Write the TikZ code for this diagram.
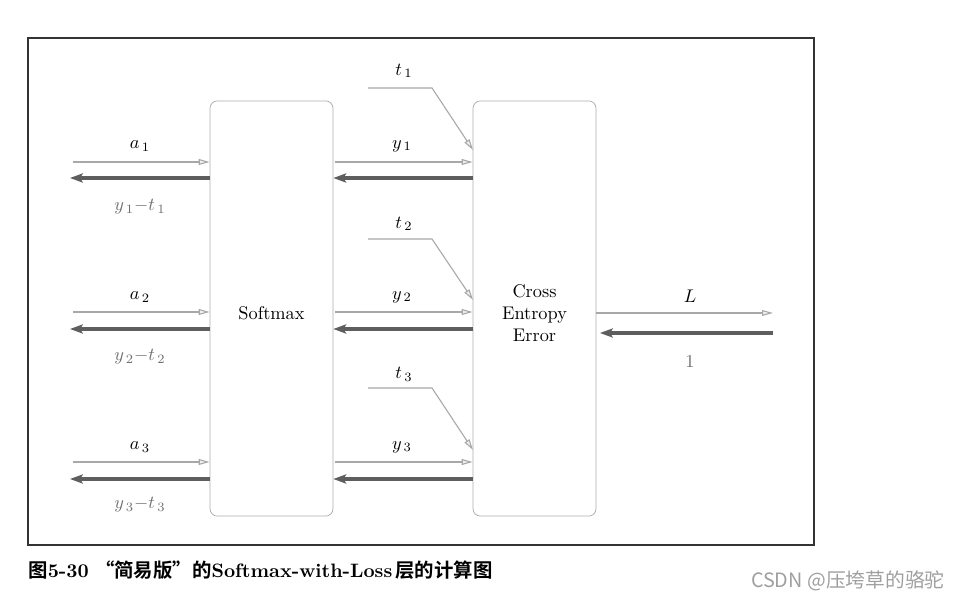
\documentclass[tikz,border=0pt]{standalone}
\usepackage{fontspec}
\usepackage{amsmath}
\usepackage{xcolor}
\usepackage{tikz}
\usetikzlibrary{arrows.meta, positioning}
\newfontfamily\cjk{Noto Sans CJK SC}[BoldFont={Noto Sans CJK SC Bold}]
\newcommand{\zh}[1]{{\cjk\bfseries #1}}
\definecolor{fwdgray}{HTML}{A8A8A8}
\definecolor{bwdgray}{HTML}{5E5E5E}
\definecolor{labgray}{HTML}{6E6E6E}
\tikzset{
    layer/.style={draw=gray!65, rounded corners=4pt, minimum width=2.36cm, minimum height=7.97cm},
    layertxt/.style={align=center, yshift=-2.6pt},
    fwd/.style={draw=fwdgray, line width=0.6pt, -{Triangle[length=6pt, width=3.2pt, fill=gray!12]}},
    bwd/.style={draw=bwdgray, line width=1.7pt, -{Stealth[length=7pt, width=5pt, inset=1.5pt]}},
    blab/.style={text=labgray},
}

\begin{document}
\begin{tikzpicture}[x=0.0192cm, y=-0.0192cm]
    \useasboundingbox (0,0) rectangle (960,601);
    \draw[line width=0.6pt, black!80] (28,38) rectangle (814,545);

    \node[layer, label={[name=smtxt, layertxt]center:Softmax}] (sm) at (271.5,308.5) {};
    \node[layer, label={[name=cetxt, layertxt]center:Cross\\Entropy\\Error}] (ce) at (534.5,308.5) {};

    % left side
    \coordinate (a1) at (73,162);
    \coordinate (a2) at (73,312);
    \coordinate (a3) at (73,462);
    \coordinate (g1) at (70,178);
    \coordinate (g2) at (70,329);
    \coordinate (g3) at (70,479);
    \draw[fwd] (a1) -- (a1 -| sm.west);
    \draw[fwd] (a2) -- (a2 -| sm.west);
    \draw[fwd] (a3) -- (a3 -| sm.west);
    \draw[bwd] (g1 -| sm.west) -- (g1);
    \draw[bwd] (g2 -| sm.west) -- (g2);
    \draw[bwd] (g3 -| sm.west) -- (g3);
    \node (la1) at (140,146) {$a_{\,1}$};
    \node (la2) at (140,297) {$a_{\,2}$};
    \node (la3) at (140,447) {$a_{\,3}$};
    \node[blab] (lg1) at (140,207) {$y_{\,1}{-}t_{\,1}$};
    \node[blab] (lg2) at (140,357) {$y_{\,2}{-}t_{\,2}$};
    \node[blab] (lg3) at (140,505) {$y_{\,3}{-}t_{\,3}$};

    % between the layers
    \draw[fwd] ([xshift=1pt]sm.east |- a1) -- (ce.west |- a1);
    \draw[fwd] ([xshift=1pt]sm.east |- a2) -- (ce.west |- a2);
    \draw[fwd] ([xshift=1pt]sm.east |- a3) -- (ce.west |- a3);
    \draw[bwd] (ce.west |- g1) -- (sm.east |- g1);
    \draw[bwd] (ce.west |- g2) -- (sm.east |- g2);
    \draw[bwd] (ce.west |- g3) -- (sm.east |- g3);
    \node (ly1) at (402,146) {$y_{\,1}$};
    \node (ly2) at (402,297) {$y_{\,2}$};
    \node (ly3) at (402,447) {$y_{\,3}$};

    % labels t
    \coordinate (t1) at (368,88);
    \coordinate (t2) at (368,239);
    \coordinate (t3) at (368,388);
    \coordinate (k1) at (432,88);
    \coordinate (k2) at (432,239);
    \coordinate (k3) at (432,388);
    \coordinate (e1) at (473,150);
    \coordinate (e2) at (473,300);
    \coordinate (e3) at (473,450);
    \draw[fwd] (t1) -- (k1) -- (e1);
    \draw[fwd] (t2) -- (k2) -- (e2);
    \draw[fwd] (t3) -- (k3) -- (e3);
    \node (lt1) at (404,71) {$t_{\,1}$};
    \node (lt2) at (404,224) {$t_{\,2}$};
    \node (lt3) at (404,374) {$t_{\,3}$};

    % loss
    \coordinate (out) at (773,313);
    \coordinate (back) at (773,333);
    \draw[fwd] (ce.east |- out) -- (out);
    \draw[bwd] (back) -- ([xshift=2pt]ce.east |- back);
    \node (lL) at (690,296) {$L$};
    \node[blab] (l1) at (690,361) {1};

    \node[anchor=west, inner sep=0pt, font=\fontsize{10.6}{12}\selectfont] (cap) at (28,570)
        {\zh{图}\textbf{5-30}\ \zh{“简易版”的}\textbf{Softmax-with-Loss}\,\zh{层的计算图}};
    \node[anchor=east, inner sep=0pt, text=gray!75, font=\fontsize{10.8}{12}\selectfont] (wm) at (945,581) {\cjk CSDN @压垮草的骆驼};
\end{tikzpicture}
\end{document}
